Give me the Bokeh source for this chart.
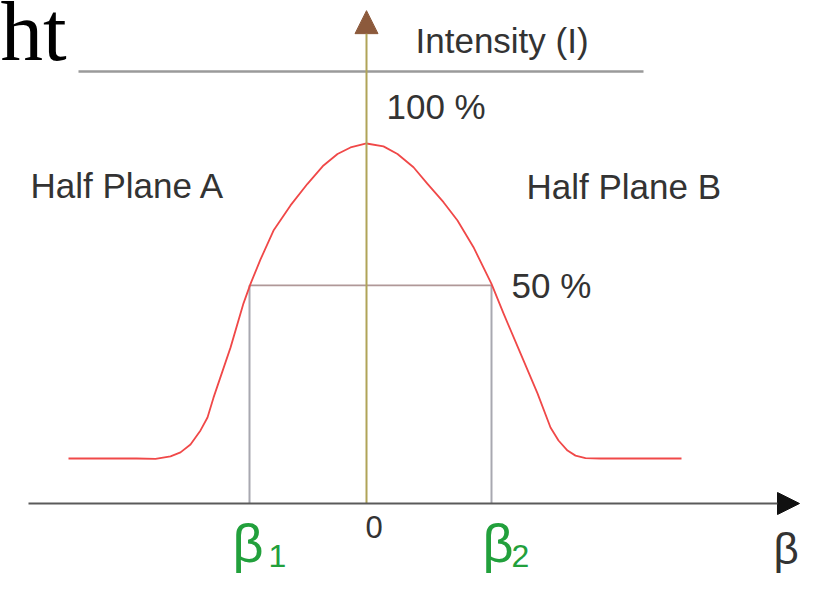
from bokeh.plotting import figure
from bokeh.models import Range1d, Arrow, NormalHead
from bokeh.core.properties import value
from bokeh.embed import file_html
from bokeh.resources import INLINE

# ---- data (beta in arbitrary units, intensity in relative %) ----
beta = [-2.98, -2.60, -2.30, -2.11, -1.96, -1.86, -1.76, -1.66, -1.59, -1.53,
        -1.36, -1.23, -1.16, -1.06, -0.93, -0.76, -0.59, -0.43, -0.29, -0.16,
        0.0, 0.17, 0.31, 0.47, 0.61, 0.77, 0.91, 1.07, 1.25, 1.37, 1.54, 1.71,
        1.84, 1.92, 2.01, 2.09, 2.19, 2.34, 2.74, 3.15]
intensity = [12.5, 12.5, 12.5, 12.4, 13.1, 14.2, 16.4, 20.3, 23.9, 29.4,
             43.3, 55.6, 61.0, 67.8, 75.8, 82.8, 88.8, 93.9, 97.1, 98.9,
             100.0, 99.2, 97.1, 93.4, 88.8, 83.7, 78.6, 71.2, 61.0, 52.8, 41.7, 30.6,
             21.1, 17.5, 14.7, 13.3, 12.6, 12.5, 12.5, 12.5]
beta_half = [-1.17, 1.25]          # beta1, beta2
half_level = 60.6                  # "50 %" level
top_rule_level = 120.0
top_rule_span = [-2.88, 2.77]
beta_axis_span = [-3.38, 4.33]
intensity_axis_top = 136.9

label_texts = ["Half Plane A", "Half Plane B", "50 %"]
label_x = [-3.36, 1.60, 1.45]
label_y = [88.4, 88.1, 60.6]

top_texts = ["Intensity (I)", "100 %"]
top_x = [0.49, 0.20]
top_y = [128.6, 110.3]

beta_sym_x = [-1.34, 1.16]
beta_sub_texts = ["1", "2"]
beta_sub_x = [-0.98, 1.45]

p = figure(width=800, height=574, output_backend="svg", toolbar_location=None,
           x_range=Range1d(-3.66, 4.34), y_range=Range1d(-19.72, 139.72),
           x_axis_location=None, y_axis_location=None, min_border=0,
           outline_line_color=None, background_fill_color="white")
p.xgrid.visible = False
p.ygrid.visible = False

# top rule
p.line(x=top_rule_span, y=[top_rule_level] * 2, line_color="#9a9a9a", line_width=2.5)

# vertical guides at beta1, beta2
for b in beta_half:
    p.line(x=[b, b], y=[0, half_level], line_color="#a8a8b0", line_width=2)
# half level line
p.line(x=beta_half, y=[half_level] * 2, line_color="#b09898", line_width=1.8)

# intensity axis (vertical)
p.add_layout(Arrow(end=NormalHead(size=23, fill_color="#8c5a3c", line_color="#8c5a3c"),
                   x_start=0, y_start=0, x_end=0, y_end=intensity_axis_top,
                   line_color="#b0a458", line_width=2))
# beta axis (horizontal)
p.add_layout(Arrow(end=NormalHead(size=22, fill_color="#111111", line_color="#111111"),
                   x_start=beta_axis_span[0], y_start=0, x_end=beta_axis_span[1], y_end=0,
                   line_color="#5a5a5a", line_width=2))

# intensity curve
p.line(x=beta, y=intensity, line_color="#f04848", line_width=1.8, line_join="round")

# texts
p.text(x=[-3.66], y=[131.2], text=["ht"], text_font=value("Liberation Serif"),
       text_font_size="85px", text_color="black", text_baseline="alphabetic")
p.text(x=top_x, y=top_y, text=top_texts, text_font=value("Liberation Sans"),
       text_font_size="35px", text_color="#333333", text_baseline="alphabetic")
p.text(x=label_x, y=label_y, text=label_texts, text_font=value("Liberation Sans"),
       text_font_size="35px", text_color="#333333", text_baseline="alphabetic")
p.text(x=[-0.01], y=[-6.47], text=["0"], text_font=value("Liberation Sans"),
       text_font_size="31px", text_color="#333333", text_baseline="alphabetic")
p.text(x=beta_sym_x, y=[-10.9] * 2, text=["β", "β"], text_font=value("Liberation Sans"),
       text_font_size="54px", text_color="#22a03c", text_baseline="alphabetic")
p.text(x=beta_sub_x, y=[-14.7] * 2, text=beta_sub_texts, text_font=value("Liberation Sans"),
       text_font_size="32px", text_color="#22a03c", text_baseline="alphabetic")
p.text(x=[4.07], y=[-12.4], text=["β"], text_font=value("Liberation Sans"),
       text_font_size="44px", text_color="#333333", text_baseline="alphabetic")

open("out.html", "w").write(file_html(p, INLINE))
